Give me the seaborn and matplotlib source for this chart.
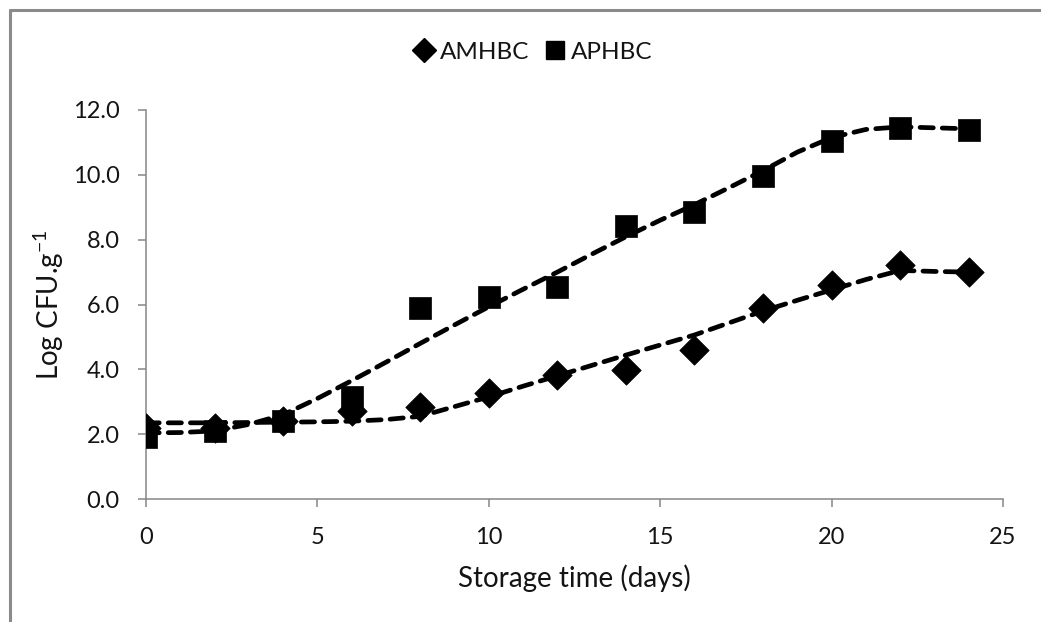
import numpy as np
import pandas as pd
import matplotlib
matplotlib.use("Agg")
import matplotlib.pyplot as plt
from matplotlib.lines import Line2D
import seaborn as sns

# Measured counts (log CFU per gram) on each sampling day
days = [0, 2, 4, 6, 8, 10, 12, 14, 16, 18, 20, 22, 24]
amhbc = [2.20, 2.20, 2.40, 2.70, 2.85, 3.27, 3.83, 3.98, 4.60, 5.90, 6.60, 7.22, 7.00]
aphbc = [1.91, 2.10, 2.40, 3.15, 5.90, 6.23, 6.54, 8.43, 8.86, 9.97, 11.05, 11.45, 11.39]

# Fitted growth curves, one value per day
fit_days = list(range(25))
amhbc_fit = [2.35, 2.35, 2.35, 2.36, 2.37, 2.38, 2.40, 2.45, 2.55, 2.85, 3.15, 3.48,
             3.80, 4.12, 4.44, 4.75, 5.06, 5.43, 5.80, 6.13, 6.45, 6.77, 7.05, 7.02, 7.00]
aphbc_fit = [2.04, 2.05, 2.10, 2.30, 2.60, 3.10, 3.65, 4.22, 4.80, 5.37, 5.93, 6.47,
             7.00, 7.55, 8.09, 8.60, 9.08, 9.60, 10.13, 10.70, 11.15, 11.40, 11.48, 11.45, 11.42]

series_names = ["AMHBC", "APHBC"]
y_ticks = [0, 2, 4, 6, 8, 10, 12]
x_ticks = [0, 5, 10, 15, 20, 25]

obs = pd.DataFrame({"day": days, "AMHBC": amhbc, "APHBC": aphbc})
fit = pd.DataFrame({"day": fit_days, "AMHBC": amhbc_fit, "APHBC": aphbc_fit})

sns.set_theme(style="white")
plt.rcParams["font.family"] = ["Lato", "DejaVu Sans"]
plt.rcParams["mathtext.fontset"] = "custom"
plt.rcParams["mathtext.rm"] = "Lato"
plt.rcParams["mathtext.default"] = "regular"

W, H = 1041, 622
fig = plt.figure(figsize=(W / 100, H / 100), dpi=100)
ax = fig.add_axes([146 / W, 1 - 499 / H, (1003 - 146) / W, (499 - 110) / H])

grey = "#868686"
ink = "#141414"
dash = (0, (2.8, 1.9))

for name in series_names:
    sns.lineplot(data=fit, x="day", y=name, ax=ax, color="black", linewidth=3.4,
                 linestyle=dash, dash_capstyle="round", legend=False, zorder=2)

sns.scatterplot(data=obs, x="day", y="AMHBC", ax=ax, marker="D", s=225, color="black",
                edgecolor="black", linewidth=0.5, legend=False, zorder=3)
sns.scatterplot(data=obs, x="day", y="APHBC", ax=ax, marker="s", s=265, color="black",
                edgecolor="black", linewidth=0.5, legend=False, zorder=3)

ax.set_xlim(0, 25)
ax.set_ylim(0, 12)
ax.set_xticks(x_ticks)
ax.set_yticks(y_ticks)
ax.set_yticklabels([f"{v:.1f}" for v in y_ticks])
ax.set_xticklabels([str(v) for v in x_ticks])

for side in ["top", "right"]:
    ax.spines[side].set_visible(False)
for side in ["left", "bottom"]:
    ax.spines[side].set_color(grey)
    ax.spines[side].set_linewidth(1.1)

ax.tick_params(axis="both", which="major", direction="out", length=6, width=1.1,
               color=grey, labelsize=17, labelcolor=ink)
ax.tick_params(axis="y", pad=13)
ax.tick_params(axis="x", pad=14)
ax.tick_params(left=True, bottom=True)

ax.set_xlabel("Storage time (days)", fontsize=20, color=ink, labelpad=12)
ax.set_ylabel(r"Log CFU.g$^{-1}$", fontsize=20, color=ink, labelpad=5)

handles = [
    Line2D([], [], linestyle="none", marker="D", markersize=12, color="black"),
    Line2D([], [], linestyle="none", marker="s", markersize=12.5, color="black"),
]
fig.legend(handles, series_names, loc="center", bbox_to_anchor=(533 / W, 1 - 52 / H),
           ncol=2, frameon=False, fontsize=17.5, handletextpad=0.2, columnspacing=0.6,
           handlelength=0.9, labelcolor=ink)

# outer frame of the chart area
fig.add_artist(Line2D([10 / W, 1], [1 - 10 / H, 1 - 10 / H], transform=fig.transFigure,
                      color="#8a8a8a", linewidth=2.2))
fig.add_artist(Line2D([10 / W, 10 / W], [0, 1 - 10 / H], transform=fig.transFigure,
                      color="#8a8a8a", linewidth=2.2))

fig.savefig("out.png", dpi=100, facecolor="white")
